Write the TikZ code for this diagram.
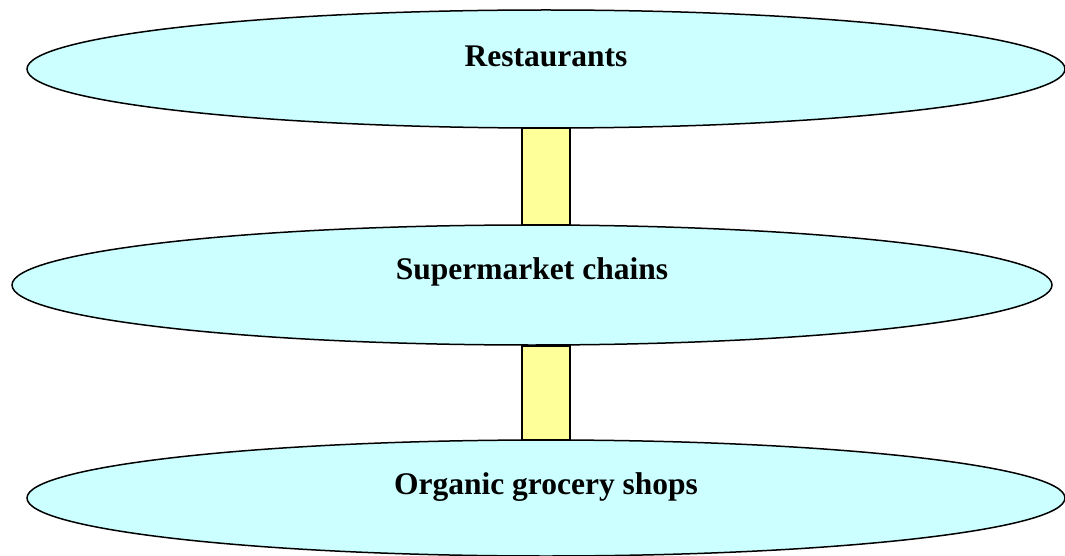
\documentclass[tikz,border=0pt]{standalone}
\usepackage{fontspec}
\setmainfont{Liberation Serif}
\usetikzlibrary{shapes.geometric}
\definecolor{paleCyan}{HTML}{CCFFFF}
\definecolor{paleYellow}{HTML}{FFFF99}

\begin{document}
\begin{tikzpicture}[x=1pt, y=-1pt,
  tier/.style={ellipse, draw, line width=1.5pt, fill=paleCyan,
    minimum width=1038pt, minimum height=118pt, inner sep=0pt},
  tierlabel/.style={font=\fontsize{31.5}{36}\selectfont\bfseries},
  link/.style={draw, line width=1.5pt, fill=paleYellow}]
\useasboundingbox (0,0) rectangle (1065,556);
\def\w{24}
\node[tier, label={[tierlabel, yshift=13pt]center:Restaurants}] (rest) at (546,69) {};
\node[tier, minimum width=1040pt, minimum height=120pt,
  label={[tierlabel, yshift=13pt]center:Supermarket chains}] (super) at (532,285) {};
\node[tier, minimum height=116pt,
  label={[tierlabel, yshift=11pt]center:Organic grocery shops}] (organic) at (546,498) {};
% yellow links between the tiers
\filldraw[link] ([xshift=-\w]rest.south) rectangle ([xshift=\w]rest.south |- super.north);
\filldraw[link] ([xshift=-\w]rest.south |- super.south) rectangle ([xshift=\w]rest.south |- organic.north);
\end{tikzpicture}
\end{document}
